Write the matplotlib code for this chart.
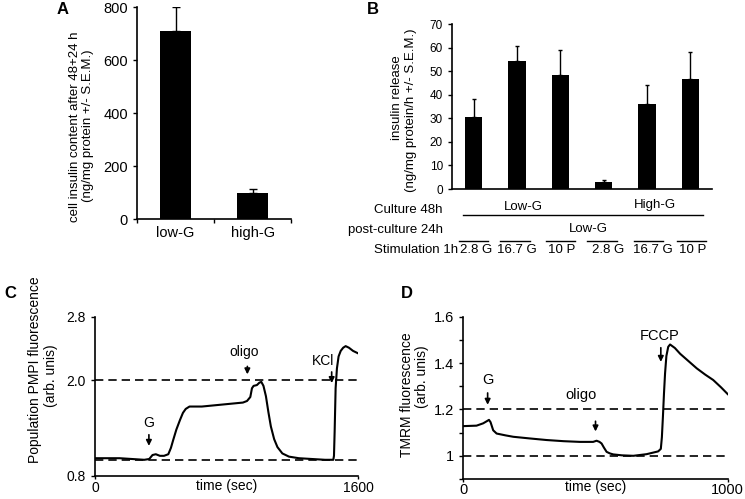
import numpy as np
import matplotlib
matplotlib.use('Agg')
import matplotlib.pyplot as plt
from matplotlib.transforms import blended_transform_factory

plt.rcParams['font.family'] = ['Liberation Sans', 'DejaVu Sans']

# ---- panel A data
a_groups = ['low-G', 'high-G']
a_values = [710, 99]
a_errors = [90, 15]

# ---- panel B data
b_values = [30.4, 54.3, 48.2, 3.0, 35.9, 46.5]
b_errors = [7.8, 6.5, 10.9, 0.8, 8.2, 11.5]
b_stim = ['2.8 G', '16.7 G', '10 P', '2.8 G', '16.7 G', '10 P']

# ---- panel C data (PMPI trace)
c_time = [0, 150, 300, 330, 350, 370, 395, 420, 446, 462, 476, 495, 517, 535, 552,
          575, 650, 750, 850, 900, 925, 945, 955, 965, 985, 1000, 1012, 1025, 1040,
          1055, 1070, 1090, 1110, 1140, 1180, 1240, 1320, 1400, 1450, 1454, 1458,
          1464, 1472, 1482, 1495, 1510, 1525, 1545, 1570, 1600]
c_value = [1.02, 1.02, 1.00, 1.01, 1.06, 1.07, 1.05, 1.05, 1.07, 1.15, 1.25, 1.38,
           1.50, 1.59, 1.64, 1.67, 1.67, 1.69, 1.71, 1.72, 1.74, 1.79, 1.90, 1.93,
           1.94, 1.97, 1.98, 1.93, 1.80, 1.60, 1.42, 1.26, 1.16, 1.08, 1.04, 1.02,
           1.01, 1.00, 1.00, 1.05, 1.35, 1.90, 2.15, 2.30, 2.37, 2.41, 2.43, 2.41,
           2.37, 2.34]
c_events = [('G', 328, 1.35, 1.14, 328, 1.46),
            ('oligo', 927, 2.21, 2.04, 909, 2.36),
            ('KCl', 1440, 2.14, 1.93, 1385, 2.24)]

# ---- panel D data (TMRM trace)
d_time = [0, 50, 75, 90, 97, 103, 113, 126, 160, 189, 250, 315, 380, 441, 491, 504,
          515, 523, 532, 542, 555, 567, 600, 643, 693, 737, 747, 751, 755, 759, 763,
          768, 775, 782, 800, 820, 850, 883, 915, 945, 975, 1000]
d_value = [1.128, 1.13, 1.14, 1.15, 1.155, 1.145, 1.11, 1.096, 1.088, 1.082, 1.075,
           1.068, 1.063, 1.06, 1.06, 1.065, 1.06, 1.053, 1.035, 1.017, 1.01, 1.006,
           1.002, 1.0, 1.007, 1.019, 1.03, 1.08, 1.17, 1.27, 1.355, 1.43, 1.47, 1.48,
           1.465, 1.44, 1.41, 1.377, 1.35, 1.327, 1.295, 1.266]
d_events = [('G', 92, 1.283, 1.208, 92, 1.325),
            ('oligo', 500, 1.161, 1.093, 445, 1.262),
            ('FCCP', 747, 1.478, 1.393, 741, 1.515)]


def clean_axes(ax):
    ax.spines['top'].set_visible(False)
    ax.spines['right'].set_visible(False)
    for s in ('left', 'bottom'):
        ax.spines[s].set_linewidth(1.2)
    ax.tick_params(direction='out', width=1.0, length=3)


fig = plt.figure(figsize=(7.45, 4.99), dpi=100)

# ---------------- A
axA = fig.add_axes([0.184, 0.561, 0.2067, 0.4248])
xa = np.arange(len(a_values)) + 0.5
axA.bar(xa, a_values, width=0.4, color='black')
axA.errorbar(xa, a_values, yerr=[np.zeros(len(a_errors)), a_errors], fmt='none',
             ecolor='black', elinewidth=1, capsize=3, capthick=1)
axA.set_xlim(0, 2)
axA.set_ylim(0, 800)
axA.set_yticks([0, 200, 400, 600, 800])
axA.set_xticks([0, 1, 2])
axA.set_xticklabels([])
axA.set_xticks(xa, minor=True)
axA.set_xticklabels(a_groups, minor=True, fontsize=10.5)
clean_axes(axA)
axA.tick_params(axis='x', which='minor', length=0, pad=5)
axA.tick_params(axis='y', labelsize=10.5)
fig.text(75 / 745, 1 - 127 / 499, 'cell insulin content after 48+24 h', rotation=90,
         ha='center', va='center', fontsize=9.5)
fig.text(88 / 745, 1 - 126 / 499, '(ng/mg protein +/- S.E.M.)', rotation=90,
         ha='center', va='center', fontsize=9.5)
fig.text(63 / 745, 1 - 9 / 499, 'A', fontsize=12, fontweight='bold', ha='center', va='center')

# ---------------- B
axB = fig.add_axes([0.6067, 0.6212, 0.349, 0.3307])
xb = np.arange(len(b_values))
axB.bar(xb, b_values, width=0.4, color='black')
axB.errorbar(xb, b_values, yerr=[np.zeros(len(b_errors)), b_errors], fmt='none',
             ecolor='black', elinewidth=1, capsize=1.5, capthick=1)
axB.set_xlim(-0.5, 5.5)
axB.set_ylim(0, 70)
axB.set_yticks(np.arange(0, 71, 10))
axB.set_xticks([])
clean_axes(axB)
axB.tick_params(axis='y', labelsize=8.5)
fig.text(397 / 745, 1 - 98 / 499, 'insulin release', rotation=90,
         ha='center', va='center', fontsize=9.5)
fig.text(411 / 745, 1 - 110 / 499, '(ng/mg protein/h +/- S.E.M.)', rotation=90,
         ha='center', va='center', fontsize=9.5)
fig.text(373 / 745, 1 - 9 / 499, 'B', fontsize=12, fontweight='bold', ha='center', va='center')

# row labels under panel B
tb = blended_transform_factory(axB.transData, fig.transFigure)
fig.text(443 / 745, 1 - 210 / 499, 'Culture 48h', ha='right', va='center', fontsize=9.5)
fig.text(443 / 745, 1 - 230 / 499, 'post-culture 24h', ha='right', va='center', fontsize=9.5)
fig.text(458 / 745, 1 - 250 / 499, 'Stimulation 1h', ha='right', va='center', fontsize=9.5)
axB.text(1.14, 1 - 207 / 499, 'Low-G', transform=tb, ha='center', va='center', fontsize=9.5)
axB.text(4.18, 1 - 205 / 499, 'High-G', transform=tb, ha='center', va='center', fontsize=9.5)
axB.plot([-0.25, 5.29], [1 - 215 / 499] * 2, transform=tb, color='black', lw=1, clip_on=False)
axB.text(2.64, 1 - 229 / 499, 'Low-G', transform=tb, ha='center', va='center', fontsize=9.5)
stim_lines = [(-0.34, 0.33), (0.61, 1.30), (1.67, 2.34), (2.62, 3.31), (3.70, 4.37), (4.69, 5.36)]
stim_pos = [0.05, 1.0, 2.04, 3.1, 4.14, 5.06]
for (x0, x1), xp, lab in zip(stim_lines, stim_pos, b_stim):
    axB.plot([x0, x1], [1 - 240.7 / 499] * 2, transform=tb, color='black', lw=1, clip_on=False)
    axB.text(xp, 1 - 250 / 499, lab, transform=tb, ha='center', va='center', fontsize=9.5)

# ---------------- C
axC = fig.add_axes([0.1275, 0.0467, 0.353, 0.3186])
axC.plot(c_time, c_value, color='black', lw=1.5)
axC.axhline(2.0, color='black', lw=1.2, ls=(0, (5, 3)))
axC.axhline(1.0, color='black', lw=1.2, ls=(0, (5, 3)))
axC.set_xlim(0, 1600)
axC.set_ylim(0.8, 2.8)
axC.set_yticks([0.8, 2.0, 2.8])
axC.set_yticklabels(['0.8', '2.0', '2.8'])
axC.set_xticks([0, 1600])
clean_axes(axC)
axC.tick_params(labelsize=10)
axC.tick_params(axis='x', length=2, pad=1.5)
axC.set_xlabel('time (sec)', fontsize=10, labelpad=-11)
for lab, xarr, ytop, ybot, xt, yt in c_events:
    axC.annotate('', xy=(xarr, ybot), xytext=(xarr, ytop),
                 arrowprops=dict(arrowstyle='-|>', color='black', lw=1.2, mutation_scale=8))
    axC.text(xt, yt, lab, ha='center', va='center', fontsize=10)
fig.text(35 / 745, 1 - 370 / 499, 'Population PMPI fluorescence', rotation=90,
         ha='center', va='center', fontsize=10)
fig.text(51 / 745, 1 - 376 / 499, '(arb. unis)', rotation=90,
         ha='center', va='center', fontsize=10)
fig.text(10 / 745, 1 - 293 / 499, 'C', fontsize=12, fontweight='bold', ha='center', va='center')

# ---------------- D
axD = fig.add_axes([0.6219, 0.0401, 0.3549, 0.3253])
axD.plot(d_time, d_value, color='black', lw=1.5)
axD.axhline(1.2, color='black', lw=1.2, ls=(0, (5, 3)))
axD.axhline(1.0, color='black', lw=1.2, ls=(0, (5, 3)))
axD.set_xlim(0, 1000)
axD.set_ylim(0.9, 1.6)
yt_d = [0.9, 1.0, 1.1, 1.2, 1.3, 1.4, 1.5, 1.6]
axD.set_yticks(yt_d)
axD.set_yticklabels(['', '1', '', '1.2', '', '1.4', '', '1.6'])
axD.set_xticks([0, 1000])
clean_axes(axD)
axD.tick_params(labelsize=10.5)
axD.tick_params(axis='x', length=2, pad=1)
axD.set_xlabel('time (sec)', fontsize=10, labelpad=-12)
for lab, xarr, ytop, ybot, xt, yt in d_events:
    axD.annotate('', xy=(xarr, ybot), xytext=(xarr, ytop),
                 arrowprops=dict(arrowstyle='-|>', color='black', lw=1.2, mutation_scale=8))
    axD.text(xt, yt, lab, ha='center', va='center', fontsize=10.5)
fig.text(407 / 745, 1 - 395 / 499, 'TMRM fluorescence', rotation=90,
         ha='center', va='center', fontsize=10)
fig.text(422 / 745, 1 - 377 / 499, '(arb. unis)', rotation=90,
         ha='center', va='center', fontsize=10)
fig.text(407 / 745, 1 - 293 / 499, 'D', fontsize=12, fontweight='bold', ha='center', va='center')

fig.savefig('out.png', dpi=100)
